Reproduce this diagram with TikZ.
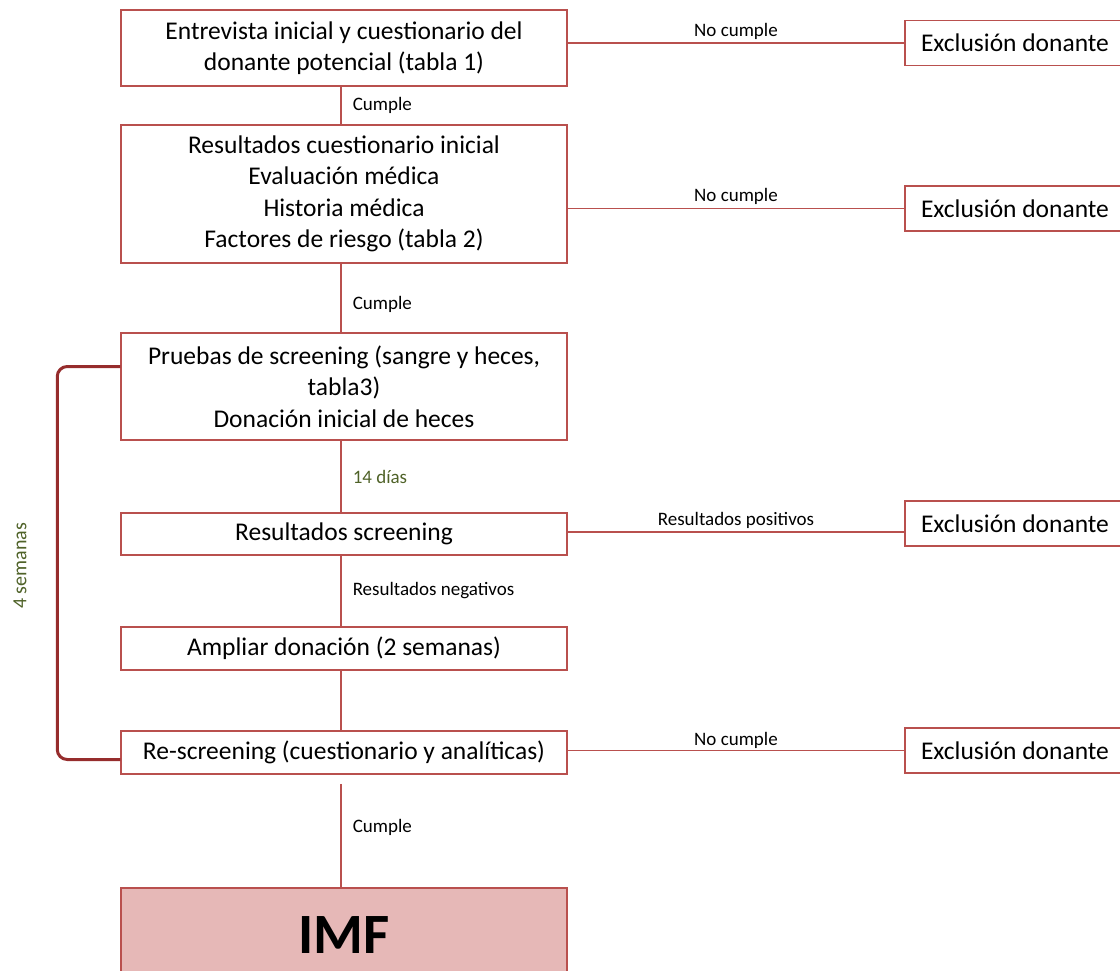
\documentclass[tikz,border=0pt]{standalone}
\usepackage{fontspec}
\setmainfont{Carlito}
\definecolor{boxred}{RGB}{185,80,78}
\definecolor{bracered}{RGB}{150,45,45}
\definecolor{imfpink}{RGB}{230,184,183}
\definecolor{weekgreen}{RGB}{79,98,40}

\begin{document}
\begin{tikzpicture}[x=1pt,y=-1pt,
  box/.style={draw=boxred, line width=1.5pt, minimum width=446pt, inner sep=0pt, align=center, font=\fontsize{25.5}{31.5}\selectfont},
  exbox/.style={draw=boxred, line width=1.5pt, minimum width=220pt, minimum height=45pt, inner sep=0pt, font=\fontsize{25.5}{30}\selectfont},
  link/.style={draw=boxred, line width=1.5pt},
  lbl/.style={font=\fontsize{19}{22}\selectfont, inner sep=3pt},
  brace/.style={draw=bracered, line width=3pt, rounded corners=10pt}]
  \useasboundingbox (0,0) rectangle (1120,970);

  \node[box, minimum height=76pt] (entrevista) at (344,48) {Entrevista inicial y cuestionario del\\donante potencial (tabla 1)};
  \node[box, minimum height=138pt] (resultados) at (344,194) {Resultados cuestionario inicial\\Evaluación médica\\Historia médica\\Factores de riesgo (tabla 2)};
  \node[box, minimum height=107pt] (pruebas) at (344,386.5) {Pruebas de screening (sangre y heces,\\tabla3)\\Donación inicial de heces};
  \node[box, minimum height=42pt] (screening) at (344,534) {Resultados screening};
  \node[box, minimum height=43pt] (ampliar) at (344,648.5) {Ampliar donación (2 semanas)};
  \node[box, minimum height=43pt] (rescreening) at (344,752.5) {Re-screening (cuestionario y analíticas)};
  \node[box, fill=imfpink, minimum height=94pt, font=\fontsize{57}{62}\selectfont\bfseries] (imf) at (344,935) {IMF};

  \node[exbox] (exclusion1) at (1015,43) {Exclusión donante};
  \node[exbox] (exclusion2) at (1015,208.5) {Exclusión donante};
  \node[exbox] (exclusion3) at (1015,523.5) {Exclusión donante};
  \node[exbox] (exclusion4) at (1015,750.5) {Exclusión donante};

  \draw[link] ([xshift=-3pt]entrevista.south) -- node[lbl, right=8pt] (cumple1) {Cumple} ([xshift=-3pt]resultados.north);
  \draw[link] ([xshift=-3pt]resultados.south) -- node[lbl, right=8pt, yshift=-6pt] (cumple2) {Cumple} ([xshift=-3pt]pruebas.north);
  \draw[link] ([xshift=-3pt]pruebas.south) -- node[lbl, right=8pt, text=weekgreen] (dias) {14 días} ([xshift=-3pt]screening.north);
  \draw[link] ([xshift=-3pt]screening.south) -- node[lbl, right=8pt] (negativos) {Resultados negativos} ([xshift=-3pt]ampliar.north);
  \draw[link] ([xshift=-3pt]ampliar.south) -- ([xshift=-3pt]rescreening.north);
  \draw[link] ([xshift=-3pt,yshift=-9pt]rescreening.south) -- node[lbl, right=8pt, yshift=8pt] (cumple3) {Cumple} ([xshift=-3pt]imf.north);

  \draw[link] (exclusion1.west -| entrevista.east) -- node[lbl, above] (nocumple1) {No cumple} (exclusion1.west);
  \draw[link] (exclusion2.west -| resultados.east) -- node[lbl, above] (nocumple2) {No cumple} (exclusion2.west);
  \draw[link] ([yshift=2pt]screening.east) -- node[lbl, above] (positivos) {Resultados positivos} ([yshift=2pt]screening.east -| exclusion3.west);
  \draw[link] (exclusion4.west -| rescreening.east) -- node[lbl, above, inner sep=1pt] (nocumple4) {No cumple} (exclusion4.west);

  \draw[brace] ([yshift=20pt]pruebas.west) -| ([xshift=-63pt,yshift=-7pt]rescreening.west) -- ([yshift=-7pt]rescreening.west);
  \node[rotate=90, text=weekgreen, font=\fontsize{20}{23}\selectfont] (semanas) at (20,566) {4 semanas};
\end{tikzpicture}
\end{document}
